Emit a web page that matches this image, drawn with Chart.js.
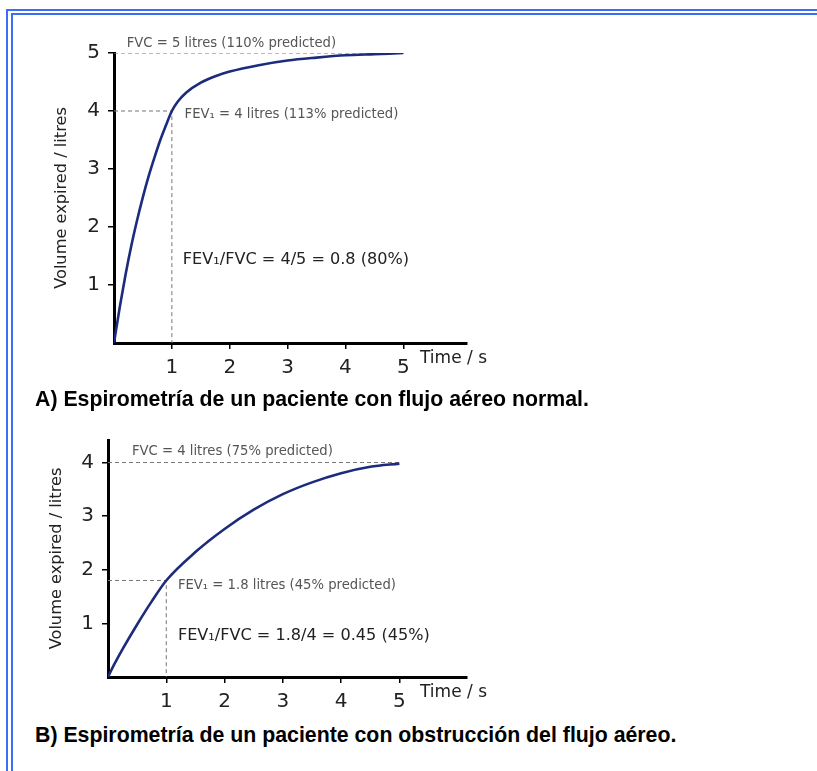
<!DOCTYPE html>
<html>
<head>
<meta charset="utf-8">
<script src="https://cdn.jsdelivr.net/npm/chart.js@4.4.1/dist/chart.umd.min.js"></script>
<style>
  body { margin: 0; background: #fff; }
  .page { position: relative; width: 817px; height: 771px; overflow: hidden; background: #fff; }
  .frame1 { position: absolute; left: 6px; top: 9px; right: -10px; bottom: -10px; border-left: 2px solid #3d6cf6; border-top: 2px solid #3d6cf6; }
  .frame2 { position: absolute; left: 11px; top: 13px; right: -10px; bottom: -10px; border-left: 2px solid #3d6cf6; border-top: 2px solid #3d6cf6; }
  canvas { position: absolute; left: 0; }
  #chartA { top: 0; }
  #chartB { top: 420px; }
  .caption { position: absolute; left: 35px; font: bold 21.3px "Liberation Sans", Arial, sans-serif; line-height: 24px; color: #000; white-space: nowrap; }
</style>
</head>
<body>
<div class="page">
  <div class="frame1"></div>
  <div class="frame2"></div>
  <canvas id="chartA" width="520" height="390"></canvas>
  <canvas id="chartB" width="520" height="300"></canvas>
  <div class="caption" style="top:387px">A) Espirometría de un paciente con flujo aéreo normal.</div>
  <div class="caption" style="top:723px">B) Espirometría de un paciente con obstrucción del flujo aéreo.</div>
</div>
<script>
'use strict';

var FONT = 'Verdana, "DejaVu Sans", sans-serif';

// A) normal airflow
var timesA = [0, 0.1, 0.2, 0.3, 0.4, 0.5, 0.6, 0.7, 0.8, 0.9, 1.0, 1.1, 1.25, 1.5, 1.75, 2, 2.5, 3, 3.5, 4, 4.5, 5];
var volumeA = [0, 0.62, 1.18, 1.68, 2.12, 2.52, 2.88, 3.2, 3.5, 3.76, 4.0, 4.16, 4.32, 4.49, 4.6, 4.68, 4.79, 4.87, 4.92, 4.96, 4.98, 5.0];
var fvcA = 5;
var fev1A = 4;

// B) obstructed airflow
var timesB = [0, 0.1, 0.25, 0.5, 0.75, 1, 1.5, 2, 2.5, 3, 3.5, 4, 4.5, 5];
var volumeB = [0, 0.22, 0.52, 0.98, 1.41, 1.8, 2.33, 2.76, 3.12, 3.41, 3.63, 3.80, 3.92, 3.98];
var fvcB = 4;
var fev1B = 1.8;

var xTicks = [1, 2, 3, 4, 5];
var yTicksA = [1, 2, 3, 4, 5];
var yTicksB = [1, 2, 3, 4];

var notesA = [
  { text: 'FVC = 5 litres (110% predicted)', x: 0.22, y: 5.17, size: 13.2, color: '#555' },
  { text: 'FEV\u2081 = 4 litres (113% predicted)', x: 1.22, y: 3.93, size: 13.2, color: '#555' },
  { text: 'FEV\u2081/FVC = 4/5 = 0.8 (80%)', x: 1.19, y: 1.43, size: 16.1, color: '#222' }
];
var notesB = [
  { text: 'FVC = 4 litres (75% predicted)', x: 0.41, y: 4.2, size: 13.2, color: '#555' },
  { text: 'FEV\u2081 = 1.8 litres (45% predicted)', x: 1.2, y: 1.71, size: 13.2, color: '#555' },
  { text: 'FEV\u2081/FVC = 1.8/4 = 0.45 (45%)', x: 1.2, y: 0.76, size: 16.1, color: '#222' }
];

function toPoints(xs, ys) {
  return xs.map(function(x, i) { return { x: x, y: ys[i] }; });
}

var notesPlugin = {
  id: 'notes',
  afterDraw: function(chart, args, opts) {
    var ctx = chart.ctx;
    var xs = chart.scales.x, ys = chart.scales.y;
    ctx.save();
    ctx.textBaseline = 'middle';
    ctx.textAlign = 'left';
    opts.items.forEach(function(n) {
      ctx.font = n.size + 'px ' + FONT;
      ctx.fillStyle = n.color;
      ctx.fillText(n.text, xs.getPixelForValue(n.x), ys.getPixelForValue(n.y));
    });
    // axis name to the right of the time axis
    ctx.font = '17px ' + FONT;
    ctx.fillStyle = '#222';
    ctx.fillText('Time / s', chart.chartArea.right - 47, chart.chartArea.bottom + 16);
    ctx.restore();
  }
};

function makeChart(id, times, volume, fvc, fev1, yTicks, yMax, o) {
  var dash = { borderColor: '#777', borderWidth: 1, borderDash: [4, 3], pointRadius: 0, fill: false, tension: 0 };
  return new Chart(document.getElementById(id), {
    type: 'line',
    data: {
      datasets: [
        {
          label: 'Volume',
          data: toPoints(times, volume),
          borderColor: '#1c2b7c',
          borderWidth: 2.6,
          pointRadius: 0,
          cubicInterpolationMode: 'monotone',
          fill: false
        },
        Object.assign({ label: 'FVC', data: [{ x: 0, y: fvc }, { x: times[times.length - 1], y: fvc }] }, dash),
        Object.assign({ label: 'FEV1', data: [{ x: 0, y: fev1 }, { x: 1, y: fev1 }, { x: 1, y: 0 }] }, dash)
      ]
    },
    options: {
      responsive: false,
      animation: false,
      devicePixelRatio: 1,
      layout: { padding: { top: o.top, right: 53, left: 0, bottom: 0 } },
      plugins: {
        legend: { display: false },
        tooltip: { enabled: false },
        notes: { items: o.notes }
      },
      scales: {
        x: {
          type: 'linear',
          min: 0,
          max: o.xMax,
          afterBuildTicks: function(s) { s.ticks = xTicks.map(function(v) { return { value: v }; }); },
          afterFit: function(s) { s.height = o.xHeight; },
          border: { display: true, color: '#000', width: 3 },
          grid: { drawOnChartArea: false, drawTicks: true, tickLength: 6, color: '#000', lineWidth: 1.5 },
          ticks: { color: '#222', padding: 7, maxRotation: 0, font: { size: 20, family: FONT } }
        },
        y: {
          type: 'linear',
          min: 0,
          max: yMax,
          afterBuildTicks: function(s) { s.ticks = yTicks.map(function(v) { return { value: v }; }); },
          afterFit: function(s) { s.width = o.yWidth; },
          border: { display: true, color: '#000', width: 3 },
          grid: { drawOnChartArea: false, drawTicks: true, tickLength: 6, color: '#000', lineWidth: 1.5 },
          ticks: { color: '#222', padding: 8, font: { size: 20, family: FONT } },
          title: {
            display: true,
            text: 'Volume expired / litres',
            color: '#222',
            padding: { top: o.titlePad, bottom: 0 },
            font: { size: 16.2, family: FONT }
          }
        }
      }
    },
    plugins: [notesPlugin]
  });
}

makeChart('chartA', timesA, volumeA, fvcA, fev1A, yTicksA, 5,
  { top: 53, xHeight: 47, yWidth: 114, xMax: 6.1, titlePad: 52, notes: notesA });
makeChart('chartB', timesB, volumeB, fvcB, fev1B, yTicksB, 4.42,
  { top: 17, xHeight: 43, yWidth: 108, xMax: 6.16, titlePad: 47, notes: notesB });
</script>
</body>
</html>
